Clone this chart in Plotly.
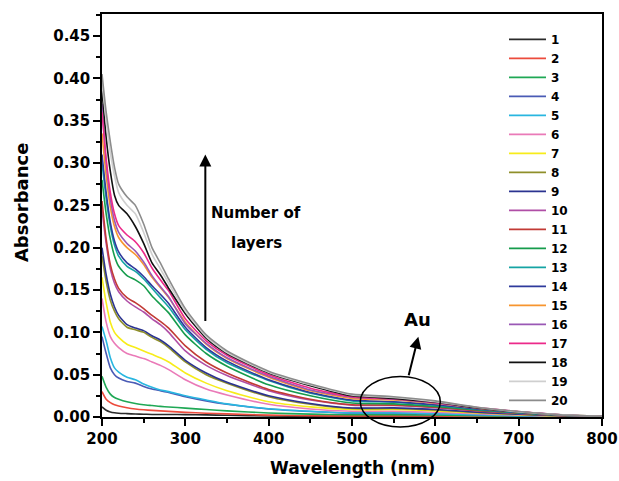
import plotly.graph_objects as go

wavelength = [200, 205, 210, 215, 220, 230, 240, 250, 260, 270, 280, 300, 325, 350,
              400, 450, 500, 550, 600, 650, 700, 750, 800]

layer_1 = [0.012, 0.008, 0.006, 0.005, 0.0045, 0.004, 0.0035, 0.0033, 0.003, 0.003, 0.003, 0.0028, 0.0025, 0.002,
           0.0012, 0.0008, 0.0006, 0.0006, 0.0005, 0.0004, 0.0003, 0.0002, 0.0001]
layer_2 = [0.030, 0.021, 0.017, 0.0145, 0.013, 0.011, 0.0095, 0.0085, 0.0078, 0.0072, 0.0066, 0.0055, 0.0045, 0.0037,
           0.0022, 0.0015, 0.0013, 0.0013, 0.0011, 0.0008, 0.0005, 0.0003, 0.0001]
layer_3 = [0.048, 0.035, 0.027, 0.023, 0.021, 0.018, 0.016, 0.0145, 0.0135, 0.0125, 0.0118, 0.0105, 0.0088, 0.0072,
           0.0048, 0.0034, 0.0027, 0.0027, 0.0023, 0.0016, 0.0010, 0.0005, 0.0002]
layer_4 = [0.095, 0.075, 0.058, 0.050, 0.046, 0.042, 0.040, 0.036, 0.033, 0.031, 0.029, 0.024, 0.019, 0.015,
           0.0095, 0.0065, 0.0046, 0.0046, 0.0038, 0.0026, 0.0015, 0.0008, 0.0002]
layer_5 = [0.107, 0.090, 0.070, 0.058, 0.053, 0.047, 0.044, 0.039, 0.035, 0.032, 0.030, 0.025, 0.020, 0.0155,
           0.0098, 0.0068, 0.0048, 0.0048, 0.0040, 0.0028, 0.0016, 0.0008, 0.0002]
layer_6 = [0.140, 0.112, 0.095, 0.087, 0.082, 0.075, 0.072, 0.069, 0.065, 0.061, 0.056, 0.044, 0.033, 0.026,
           0.0150, 0.0095, 0.0068, 0.0068, 0.0056, 0.0038, 0.0022, 0.0010, 0.0003]
layer_7 = [0.165, 0.135, 0.112, 0.100, 0.094, 0.086, 0.082, 0.078, 0.074, 0.070, 0.065, 0.052, 0.040, 0.031,
           0.018, 0.012, 0.0088, 0.0088, 0.0072, 0.0048, 0.0028, 0.0012, 0.0004]
layer_8 = [0.190, 0.160, 0.138, 0.125, 0.116, 0.106, 0.103, 0.100, 0.094, 0.089, 0.082, 0.065, 0.050, 0.040,
           0.024, 0.015, 0.0100, 0.0100, 0.0082, 0.0055, 0.0032, 0.0014, 0.0004]
layer_9 = [0.200, 0.168, 0.145, 0.130, 0.120, 0.109, 0.105, 0.102, 0.096, 0.091, 0.084, 0.067, 0.052, 0.041,
           0.025, 0.016, 0.0106, 0.0108, 0.0088, 0.0058, 0.0034, 0.0015, 0.0004]
layer_10 = [0.245, 0.205, 0.175, 0.158, 0.148, 0.137, 0.130, 0.124, 0.116, 0.109, 0.100, 0.078, 0.061, 0.049,
            0.031, 0.020, 0.0140, 0.0135, 0.011, 0.0072, 0.0042, 0.0018, 0.0005]
layer_11 = [0.255, 0.210, 0.180, 0.163, 0.152, 0.141, 0.135, 0.128, 0.120, 0.113, 0.105, 0.084, 0.065, 0.052,
            0.0325, 0.021, 0.0145, 0.0140, 0.0115, 0.0075, 0.0044, 0.0019, 0.0005]
layer_12 = [0.280, 0.240, 0.210, 0.190, 0.178, 0.167, 0.162, 0.155, 0.143, 0.133, 0.123, 0.097, 0.075, 0.060,
            0.038, 0.025, 0.0165, 0.0155, 0.0125, 0.0082, 0.0048, 0.0021, 0.0006]
layer_13 = [0.300, 0.258, 0.225, 0.203, 0.190, 0.178, 0.172, 0.163, 0.152, 0.141, 0.130, 0.103, 0.080, 0.064,
            0.043, 0.028, 0.019, 0.0175, 0.014, 0.0092, 0.0053, 0.0023, 0.0006]
layer_14 = [0.310, 0.265, 0.230, 0.208, 0.195, 0.182, 0.175, 0.166, 0.155, 0.145, 0.134, 0.106, 0.082, 0.066,
            0.044, 0.029, 0.020, 0.018, 0.0145, 0.0095, 0.0055, 0.0024, 0.0006]
layer_15 = [0.335, 0.285, 0.248, 0.225, 0.212, 0.200, 0.192, 0.180, 0.165, 0.153, 0.141, 0.112, 0.086, 0.069,
            0.047, 0.031, 0.022, 0.020, 0.016, 0.0105, 0.006, 0.0026, 0.0007]
layer_16 = [0.370, 0.300, 0.258, 0.232, 0.218, 0.205, 0.196, 0.183, 0.167, 0.154, 0.142, 0.110, 0.087, 0.070,
            0.048, 0.032, 0.0235, 0.021, 0.0165, 0.011, 0.0062, 0.0027, 0.0007]
layer_17 = [0.360, 0.305, 0.265, 0.240, 0.226, 0.215, 0.207, 0.194, 0.176, 0.162, 0.149, 0.116, 0.090, 0.073,
            0.050, 0.034, 0.024, 0.0215, 0.017, 0.0112, 0.0063, 0.0027, 0.0007]
layer_18 = [0.385, 0.330, 0.290, 0.262, 0.250, 0.240, 0.225, 0.205, 0.182, 0.168, 0.152, 0.122, 0.093, 0.075,
            0.052, 0.037, 0.025, 0.022, 0.0175, 0.011, 0.006, 0.0027, 0.0007]
layer_19 = [0.395, 0.350, 0.312, 0.285, 0.265, 0.250, 0.240, 0.218, 0.192, 0.175, 0.158, 0.125, 0.095, 0.076,
            0.053, 0.038, 0.026, 0.023, 0.018, 0.0115, 0.006, 0.0028, 0.0007]
layer_20 = [0.405, 0.360, 0.325, 0.295, 0.275, 0.260, 0.250, 0.228, 0.200, 0.182, 0.163, 0.128, 0.097, 0.078,
            0.054, 0.039, 0.027, 0.024, 0.019, 0.0115, 0.0065, 0.0025, 0.0007]

series_names = [str(i) for i in range(1, 21)]
series_values = [layer_1, layer_2, layer_3, layer_4, layer_5, layer_6, layer_7, layer_8, layer_9, layer_10,
                 layer_11, layer_12, layer_13, layer_14, layer_15, layer_16, layer_17, layer_18, layer_19, layer_20]
colors = ["#2b2b2b", "#ec4b3c", "#1fa855", "#4a5bb5", "#29b6e0", "#ea7ab8", "#f7ec1a", "#8f8f2a",
          "#2b3390", "#b04ea6", "#c23a35", "#169c4c", "#15a4a4", "#2e3a9c", "#f7952f", "#9a58b5",
          "#ec2a8a", "#111111", "#cfcfcf", "#8c8c8c"]

x_ticks = [200, 300, 400, 500, 600, 700, 800]
y_ticks = [0.00, 0.05, 0.10, 0.15, 0.20, 0.25, 0.30, 0.35, 0.40, 0.45]

FONT = "DejaVu Sans"

fig = go.Figure()
for name, vals, col in zip(series_names, series_values, colors):
    fig.add_trace(go.Scatter(x=wavelength, y=vals, mode="lines", name=name,
                             line=dict(color=col, width=1.6, shape="spline", smoothing=0.6)))

axis_common = dict(showline=True, linecolor="black", linewidth=1.5, mirror=True,
                   showgrid=False, zeroline=False, ticks="outside", ticklen=7, tickwidth=1.5,
                   tickcolor="black", automargin=False,
                   tickfont=dict(family=FONT, size=15, color="black", weight="bold"))

fig.update_layout(
    width=619, height=481, autosize=False,
    margin=dict(l=102, r=17, t=14, b=64, autoexpand=False),
    paper_bgcolor="white", plot_bgcolor="white",
    xaxis=dict(range=[200, 800], tickvals=x_ticks,
               minor=dict(ticks="outside", ticklen=4, tickwidth=1.5, tickcolor="black", dtick=50, tick0=200,
                          showgrid=False),
               **axis_common),
    yaxis=dict(range=[0, 0.476], tickvals=y_ticks, tickformat=".2f",
               minor=dict(ticks="outside", ticklen=4, tickwidth=1.5, tickcolor="black", dtick=0.025, tick0=0,
                          showgrid=False),
               **axis_common),
    legend=dict(x=0.804, y=0.973, xanchor="left", yanchor="top", bgcolor="rgba(0,0,0,0)",
                font=dict(family=FONT, size=12, color="black", weight="bold"),
                tracegroupgap=0, itemwidth=37),
    showlegend=True,
)

bold = dict(family=FONT, color="black", weight="bold")
annotations = [
    dict(text="Wavelength (nm)", xref="paper", yref="paper", x=0.501, y=-0.126,
         showarrow=False, font=dict(size=17, **bold), xanchor="center", yanchor="middle"),
    dict(text="Absorbance", xref="paper", yref="paper", x=-0.161, y=0.532, textangle=-90,
         showarrow=False, font=dict(size=18, **bold), xanchor="center", yanchor="middle"),
    dict(text="Number of", xref="x", yref="y", x=385, y=0.2415, showarrow=False,
         font=dict(size=15, **bold), xanchor="center", yanchor="middle"),
    dict(text="layers", xref="x", yref="y", x=385, y=0.206, showarrow=False,
         font=dict(size=15, **bold), xanchor="center", yanchor="middle"),
    dict(text="", xref="x", yref="y", x=324, y=0.310, ax=324, ay=0.1115, axref="x", ayref="y",
         showarrow=True, arrowhead=2, arrowsize=1.2, arrowwidth=2, arrowcolor="black"),
    dict(text="Au", xref="x", yref="y", x=578.4, y=0.115, showarrow=False,
         font=dict(size=18, **bold), xanchor="center", yanchor="middle"),
    dict(text="", xref="x", yref="y", x=579.6, y=0.0949, ax=567.6, ay=0.0476, axref="x", ayref="y",
         showarrow=True, arrowhead=2, arrowsize=1.2, arrowwidth=2, arrowcolor="black"),
]
fig.update_layout(annotations=annotations)

fig.add_shape(type="circle", xref="paper", yref="paper", x0=0.5166, x1=0.6766, y0=-0.0248, y1=0.1007,
              line=dict(color="black", width=1.5))

fig.write_html("out.html")
